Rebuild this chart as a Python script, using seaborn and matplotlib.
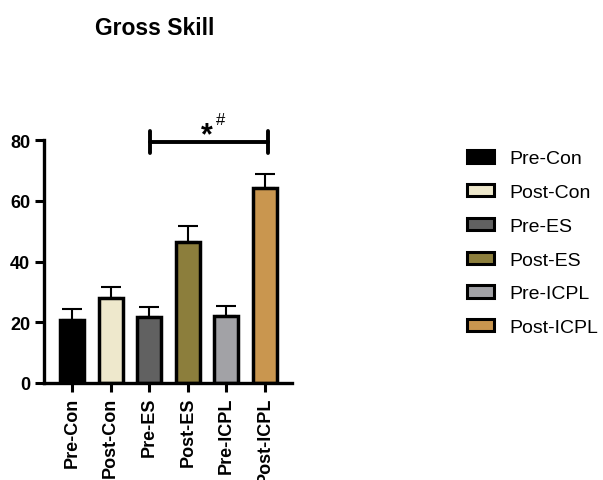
import numpy as np
import pandas as pd
import matplotlib
matplotlib.use("Agg")
import matplotlib.pyplot as plt
import seaborn as sns
from matplotlib.patches import Patch

groups = ["Pre-Con", "Post-Con", "Pre-ES", "Post-ES", "Pre-ICPL", "Post-ICPL"]
means = [20.7, 28.0, 21.7, 46.4, 22.0, 64.1]
errors = [3.8, 3.7, 3.3, 5.2, 3.3, 4.8]
colors = ["#000000", "#EEE8CC", "#616161", "#8C7E3C", "#A2A2A6", "#C9964F"]

sns.set_style("ticks")
plt.rcParams["font.family"] = ["Liberation Sans", "DejaVu Sans"]
plt.rcParams["text.color"] = "black"
plt.rcParams["xtick.color"] = "black"
plt.rcParams["ytick.color"] = "black"
plt.rcParams["axes.edgecolor"] = "black"

df = pd.DataFrame({"group": groups, "mean": means, "err": errors})

fig = plt.figure(figsize=(6.03, 4.81), dpi=100)
ax = fig.add_axes([0.073, 0.2017, 0.411, 0.505])

sns.barplot(data=df, x="group", y="mean", hue="group", palette=colors,
            order=groups, hue_order=groups, width=0.62, dodge=False,
            saturation=1, edgecolor="black", linewidth=2.5, legend=False, ax=ax)

xs = np.arange(len(groups))
ax.errorbar(xs, df["mean"], yerr=[np.zeros(len(groups)), df["err"]],
            fmt="none", ecolor="black", elinewidth=1.5, capsize=7,
            capthick=1.5, zorder=1)

ax.set_xlim(-0.73, 5.7)
ax.set_ylim(0, 80)
ax.set_yticks([0, 20, 40, 60, 80])
ax.set_xlabel("")
ax.set_ylabel("")
for side in ["top", "right"]:
    ax.spines[side].set_visible(False)
for side in ["left", "bottom"]:
    ax.spines[side].set_linewidth(2.4)
ax.tick_params(axis="both", width=2.2, length=6.5, labelsize=13)
ax.set_xticks(xs)
ax.set_xticklabels(groups, rotation=90, fontweight="bold")
for lbl in ax.get_yticklabels():
    lbl.set_fontweight("bold")

# significance bracket between Pre-ES and Post-ICPL
y_br = 79.3
x0, x1 = 2.02, 5.08
ax.plot([x0, x1], [y_br, y_br], color="black", lw=2.8, clip_on=False)
ax.plot([x0, x0], [y_br - 3.6, y_br + 3.6], color="black", lw=2.8, clip_on=False)
ax.plot([x1, x1], [y_br - 3.6, y_br + 3.6], color="black", lw=2.8, clip_on=False)
ax.text(3.5, y_br - 2.8, "*", ha="center", va="bottom",
        fontsize=22, fontweight="bold", clip_on=False)
ax.text(3.72, y_br + 5.0, "#", ha="left", va="bottom",
        fontsize=12, clip_on=False)

fig.text(0.157, 0.94, "Gross Skill", fontsize=16.5, fontweight="bold",
         ha="left", va="center")

handles = [Patch(facecolor=c, edgecolor="black", linewidth=2.2) for c in colors]
ax.legend(handles, groups, loc="upper left", bbox_to_anchor=(1.675, 0.99),
          frameon=False, fontsize=14, handlelength=1.4, handleheight=0.6,
          labelspacing=0.86, handletextpad=0.8, borderaxespad=0)

fig.savefig("out.png", dpi=100)
